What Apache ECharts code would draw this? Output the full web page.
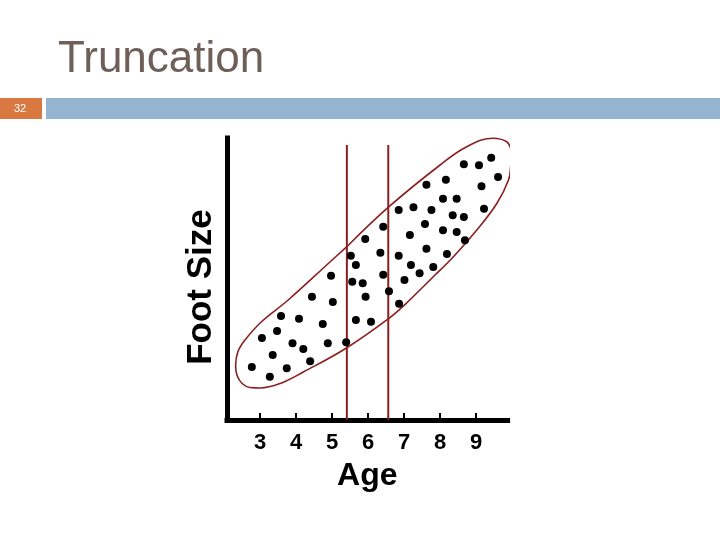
<!DOCTYPE html>
<html>
<head>
<meta charset="utf-8">
<script src="https://cdn.jsdelivr.net/npm/echarts@6/dist/echarts.min.js"></script>
<style>
  html, body { margin: 0; padding: 0; background: #fff; }
  #chart { width: 720px; height: 540px; }
</style>
</head>
<body>
<div id="chart"></div>
<script>
// ---- data ----
const ages = [9.42, 8.66, 9.08, 9.61, 8.16, 7.62, 9.15, 8.08, 8.46, 9.22,
  6.85, 7.26, 7.76, 8.35, 8.66, 6.42, 7.58, 8.08, 8.46, 7.16,
  5.92, 8.69, 7.62, 6.34, 5.52, 6.85, 8.19, 5.66, 7.19, 7.81,
  7.43, 4.97, 6.42, 5.56, 5.85, 7.01, 6.58, 4.44, 5.93, 5.02,
  6.86, 3.58, 4.08, 5.66, 6.08, 4.74, 3.47, 3.05, 5.39, 3.90,
  4.88, 4.20, 3.35, 4.39, 2.77, 3.74, 3.27];
const footSizes = [26.23, 25.57, 25.47, 24.30, 24.03, 23.53, 23.37, 22.13, 22.13, 21.13,
  21.00, 21.27, 21.00, 20.47, 20.30, 19.33, 19.60, 18.97, 18.80, 18.50,
  18.10, 17.97, 17.13, 16.73, 16.43, 16.43, 16.60, 15.50, 15.50, 15.30,
  14.67, 14.43, 14.53, 13.83, 13.67, 14.00, 12.87, 12.33, 12.33, 11.80,
  11.63, 10.40, 10.13, 10.00, 9.83, 9.60, 8.90, 8.20, 7.77, 7.67,
  7.67, 7.10, 6.50, 5.87, 5.30, 5.17, 4.33];
const ageTicks = [3, 4, 5, 6, 7, 8, 9];
const cutoffAges = [5.41, 6.56];
const cutoffTop = 27.5;
// hand-drawn outline around the cloud (age, foot size)
const outlineAge = [5.41, 6.58, 8.00, 8.74, 9.48, 9.85, 9.96, 9.99, 9.96, 9.90, 9.58, 9.02,
  8.37, 7.81, 7.03, 6.58, 5.41, 4.20, 3.56, 3.00, 2.72, 2.50, 2.36,
  2.32, 2.38, 2.58, 3.03, 3.78, 4.94, 5.41];
const outlineSize = [17.33, 21.33, 25.50, 27.33, 28.17, 27.83, 27.17, 26.33, 25.33, 24.00, 21.67, 19.00,
  16.33, 14.33, 11.57, 10.17, 7.23, 4.80, 3.65, 3.20, 3.25, 3.65, 4.45,
  5.40, 6.80, 8.00, 9.80, 12.00, 15.80, 17.33];

const RED = '#8B1F1F';
const FONT = '"Liberation Sans", Arial, sans-serif';

const chart = echarts.init(document.getElementById('chart'), null, { renderer: 'canvas' });

const series = [
  {
    type: 'line',
    data: outlineAge.map((a, i) => [a, outlineSize[i]]),
    smooth: 0.4,
    symbol: 'none',
    clip: false,
    lineStyle: { color: RED, width: 1.6 },
    z: 3,
    silent: true
  }
];
cutoffAges.forEach(c => {
  series.push({
    type: 'line',
    data: [[c, 0], [c, cutoffTop]],
    symbol: 'none',
    clip: false,
    lineStyle: { color: RED, width: 2 },
    z: 4,
    silent: true
  });
});
series.push({
  type: 'scatter',
  data: ages.map((a, i) => [a, footSizes[i]]),
  symbol: 'circle',
  symbolSize: 8,
  itemStyle: { color: '#000', opacity: 1 },
  z: 5
});

chart.setOption({
  animation: false,
  backgroundColor: '#fff',
  title: {
    text: 'Truncation',
    left: 53,
    top: 33,
    textStyle: { fontFamily: FONT, fontSize: 44, fontWeight: 'normal', color: '#6E5F58' }
  },
  graphic: [
    { type: 'rect', shape: { x: 0, y: 98, width: 42, height: 21 }, style: { fill: '#DA7842' } },
    { type: 'rect', shape: { x: 46, y: 98, width: 674, height: 21 }, style: { fill: '#94B4D2' } },
    { type: 'text', x: 20, y: 109, style: { text: '32', fill: '#fff', fontSize: 11, fontFamily: FONT, textAlign: 'center', textVerticalAlign: 'middle' } }
  ],
  grid: { left: 227, right: 212.4, top: 138, bottom: 120, containLabel: false },
  xAxis: {
    type: 'value',
    min: 2.08,
    max: 9.875,
    splitLine: { show: false },
    axisLine: { show: true, onZero: false, lineStyle: { color: '#000', width: 5, cap: 'square' } },
    axisTick: { show: true, inside: true, length: 7, customValues: ageTicks, lineStyle: { color: '#000', width: 2 } },
    axisLabel: { customValues: ageTicks, margin: 12, fontFamily: FONT, fontSize: 22, fontWeight: 'bold', color: '#000' },
    name: 'Age',
    nameLocation: 'middle',
    nameGap: 40,
    nameTextStyle: { fontFamily: FONT, fontSize: 32, fontWeight: 'bold', color: '#000' }
  },
  yAxis: {
    type: 'value',
    min: 0,
    max: 28.2,
    splitLine: { show: false },
    axisLine: { show: true, onZero: false, lineStyle: { color: '#000', width: 5, cap: 'square' } },
    axisTick: { show: false },
    axisLabel: { show: false },
    name: 'Foot Size',
    nameLocation: 'middle',
    nameGap: 8,
    nameTextStyle: { fontFamily: FONT, fontSize: 35, fontWeight: 'bold', color: '#000', padding: [0, 16, 0, 0] }
  },
  series: series
});
</script>
</body>
</html>
